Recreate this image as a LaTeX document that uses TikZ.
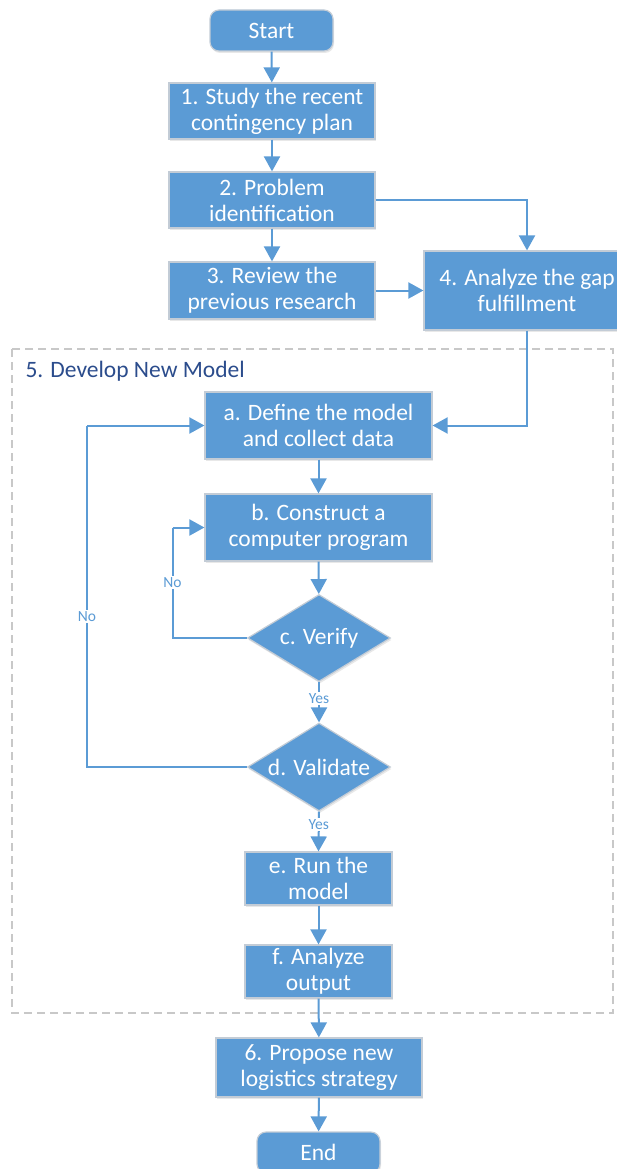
\documentclass[tikz,border=0pt]{standalone}
\usepackage{fontspec}
\setmainfont{Carlito}
\usetikzlibrary{arrows.meta,shadows,shapes.geometric,calc}
\definecolor{boxblue}{HTML}{5B9BD5}
\definecolor{boxedge}{HTML}{C3CCD6}
\definecolor{framegray}{HTML}{C8C8C8}
\definecolor{titleblue}{HTML}{2B4C8C}
\tikzset{
  boxfont/.style={font=\fontsize{23.5}{26}\selectfont},
  procbox/.style={draw=boxedge, line width=1.2pt, fill=boxblue, text=white,
    boxfont, align=center, inner sep=0pt,
    drop shadow={opacity=0.18, shadow xshift=1pt, shadow yshift=-2pt}},
  termbox/.style={procbox, rounded corners=9pt},
  decbox/.style={diamond, procbox, inner sep=0pt, aspect=1.64},
  flow/.style={draw=boxblue, line width=2pt,
    -{Triangle[width=16pt,length=15pt]}},
  loopline/.style={draw=boxblue, line width=2pt},
  lbl/.style={fill=white, text=boxblue, inner sep=1.5pt,
    font=\fontsize{15.5}{17}\selectfont},
}
\begin{document}
\begin{tikzpicture}[x=1pt,y=-1pt]
\useasboundingbox (0,0) rectangle (617,1169);

% model development frame
\draw[framegray, line width=1.5pt, dash pattern=on 8pt off 5pt]
  (12,349) rectangle (613,1013);
\node[anchor=west, text=titleblue, boxfont] (title) at (22,371) {5. Develop New Model};

% main steps
\node[termbox, minimum width=123pt, minimum height=41pt] (start) at (271.5,30.5) {Start};
\node[procbox, minimum width=206pt, minimum height=56pt] (s1) at (272,111) {1. Study the recent\\contingency plan};
\node[procbox, minimum width=206pt, minimum height=56pt] (s2) at (272,200) {2. Problem\\identification};
\node[procbox, minimum width=206pt, minimum height=57pt] (s3) at (272,290.5) {3. Review the\\previous research};
\node[procbox, minimum width=206pt, minimum height=79pt] (s4) at (527,290.5) {4. Analyze the gap\\fulfillment};

% model steps
\node[procbox, minimum width=227pt, minimum height=67pt] (ma) at (318.5,425.5) {a. Define the model\\and collect data};
\node[procbox, minimum width=227pt, minimum height=67pt] (mb) at (318.5,527.5) {b. Construct a\\computer program};
\node[decbox, minimum width=143pt, minimum height=87pt] (mc) at (319,638) {c. Verify};
\node[decbox, minimum width=143pt, minimum height=88pt] (md) at (319,767) {d. Validate};
\node[procbox, minimum width=147pt, minimum height=53pt] (me) at (318.5,878.5) {e. Run the\\model};
\node[procbox, minimum width=147pt, minimum height=53pt] (mf) at (318.5,971.5) {f. Analyze\\output};

% final steps
\node[procbox, minimum width=206pt, minimum height=59pt] (s6) at (319,1067.5) {6. Propose new\\logistics strategy};
\node[termbox, minimum width=123pt, minimum height=41pt] (end) at (318.5,1152.5) {End};

% loop corners
\coordinate (vnoc) at (172.5,638);
\coordinate (vnod) at (87,767);

% connectors
\draw[flow] (start) -- (s1);
\draw[flow] (s1) -- (s2);
\draw[flow] (s2) -- (s3);
\draw[flow] (s2.east) -| (s4.north);
\draw[flow] (s3.east) -- (s3.east -| s4.west);
\draw[flow] (s4.south) |- (ma.east);
\draw[flow] (ma) -- (mb);
\draw[flow] (mb) -- (mc);
\draw[loopline] (mc.west) -- (vnoc) -- node[lbl, pos=0.5] (nov) {No} (vnoc |- mb.west);
\draw[flow] (vnoc |- mb.west) -- (mb.west);
\draw[loopline] (md.west) -- (vnod) -- node[lbl, pos=0.44] (noa) {No} (vnod |- ma.west);
\draw[flow] (vnod |- ma.west) -- (ma.west);
\draw[flow] (mc.south) -- node[lbl, pos=0.41] (yesc) {Yes} (md.north);
\draw[flow] (md.south) -- node[lbl, pos=0.32] (yesd) {Yes} (me.north);
\draw[flow] (me) -- (mf);
\draw[flow] (mf) -- (s6);
\draw[flow] (s6) -- (end);
\end{tikzpicture}
\end{document}
